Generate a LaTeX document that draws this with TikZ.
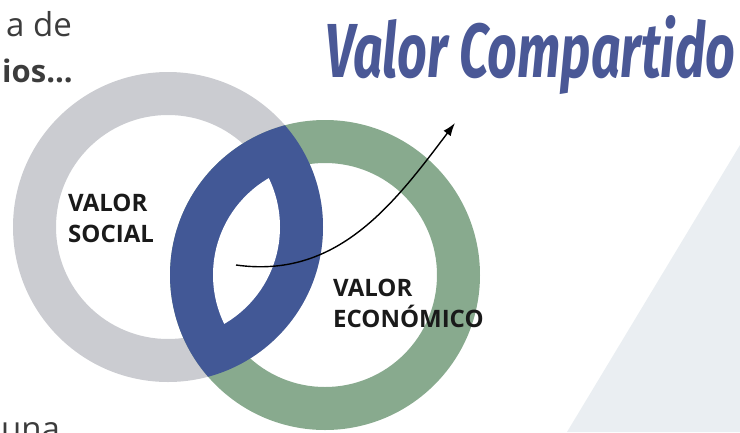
\documentclass[tikz,border=0pt]{standalone}
\usepackage{fontspec}
\setmainfont{Open Sans}
\newfontfamily\titlefont{Fira Sans}
\usepackage{tikz}
\usetikzlibrary{arrows.meta}

\definecolor{ringgray}{RGB}{203,204,209}
\definecolor{ringgreen}{RGB}{136,170,142}
\definecolor{ringblue}{RGB}{66,88,150}
\definecolor{titleblue}{RGB}{74,88,150}
\definecolor{bgtri}{RGB}{234,238,242}
\definecolor{inktext}{RGB}{26,26,26}

\begin{document}
\begin{tikzpicture}[
    x=1pt, y=-1pt,
    ringlabel/.style={anchor=north west, inner sep=0pt, align=left, text=inktext,
      font=\fontsize{24}{31}\selectfont\bfseries},
    bodytext/.style={inner sep=0pt, text=inktext!85, font=\fontsize{33}{40}\selectfont}
    ]

    \useasboundingbox (0,0) rectangle (740,432);
    \clip (0,0) rectangle (740,432);

    \coordinate (social) at (168,227);
    \coordinate (eco) at (325,275);

    % background triangle
    \fill[bgtri] (567,432) -- (740,145) -- (740,432) -- cycle;

    % rings
    \fill[ringgray, even odd rule] (social) circle[radius=155pt] (social) circle[radius=112pt];
    \fill[ringgreen, even odd rule] (eco) circle[radius=155pt] (eco) circle[radius=112pt];

    % overlap
    \begin{scope}
      \clip (social) circle[radius=155pt];
      \fill[ringblue] (eco) circle[radius=155pt];
      \clip (social) circle[radius=112pt];
      \fill[white] (eco) circle[radius=112pt];
    \end{scope}

    \node[ringlabel] (socialtxt) at (68,194) {VALOR\\SOCIAL};
    \node[ringlabel] (ecotxt) at (333,279) {VALOR\\ECONÓMICO};

    % cut text on the left
    \node[bodytext, anchor=base east] (topline) at (72,36) {a de};
    \node[bodytext, anchor=base east, font=\fontsize{31}{40}\selectfont\bfseries] (boldline) at (73,82) {ios...};
    \node[bodytext, anchor=base west] (lowline) at (1,440) {una};

    \node[anchor=base west, inner sep=0pt, text=titleblue] (title) at (325,77)
      {\resizebox{410pt}{62pt}{\titlefont\bfseries\itshape Valor Compartido}};

    \coordinate (flowstart) at (236,265);
    \coordinate (flowend) at (455,123);
    \path (flowstart) edge[-{Latex[length=13pt,width=9pt]}, line width=1.4pt, out=-8, in=233] (flowend);

  \end{tikzpicture}
\end{document}
